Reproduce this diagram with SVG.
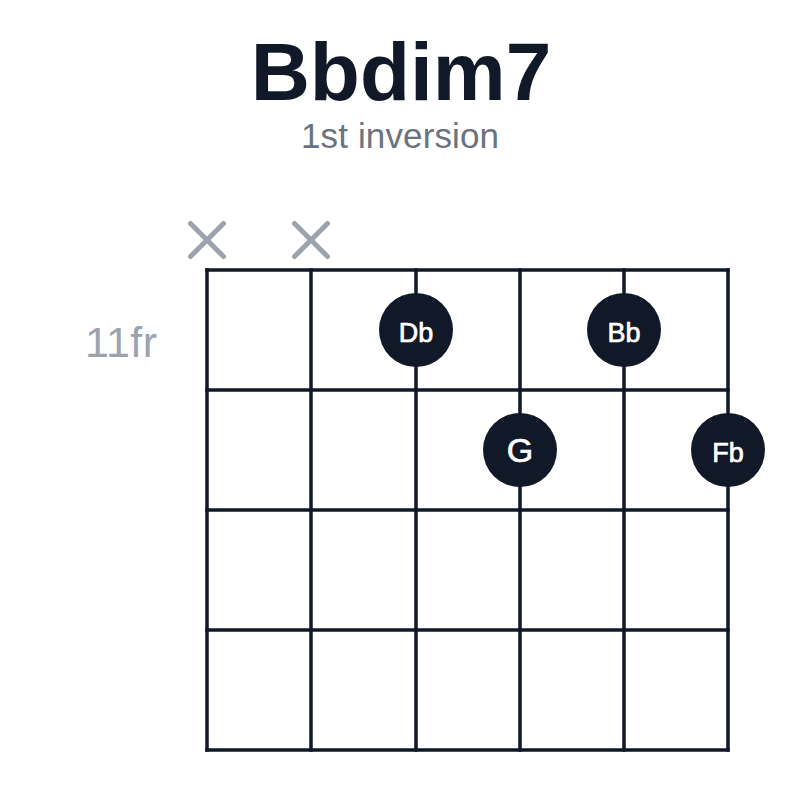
<svg xmlns="http://www.w3.org/2000/svg" width="800" height="800" viewBox="0 0 800 800">
  <style>
    .title { font-family: "Liberation Sans", Arial, sans-serif; font-weight: bold; font-size: 82px; fill: #111827; }
    .sub { font-family: "Liberation Sans", Arial, sans-serif; font-size: 35px; fill: #6b7280; }
    .fret-label { font-family: "Liberation Sans", Arial, sans-serif; font-size: 43px; fill: #9ca3af; }
    .grid line { stroke: #111827; stroke-width: 3.5; stroke-linecap: square; }
    .mute line { stroke: #9ca3af; stroke-width: 5; stroke-linecap: round; }
    .dot circle { fill: #111827; }
    .dot text { font-family: "Liberation Sans", Arial, sans-serif; fill: #ffffff; text-anchor: middle; stroke: #ffffff; stroke-width: 0.7; }
    .small { font-size: 27px; }
    .big { font-size: 34px; }
  </style>
  <rect width="800" height="800" fill="#ffffff"/>
  <g id="title">
    <text class="title" x="401" y="100" text-anchor="middle">Bbdim7</text>
    <text class="sub" x="400" y="148" text-anchor="middle" textLength="198">1st inversion</text>
  </g>
  <g id="fret-number">
    <text class="fret-label" x="85" y="357" textLength="72">11fr</text>
  </g>
  <g id="connectors" class="grid">
    <line x1="207" y1="270" x2="207" y2="750"/>
    <line x1="311" y1="270" x2="311" y2="750"/>
    <line x1="416" y1="270" x2="416" y2="750"/>
    <line x1="520" y1="270" x2="520" y2="750"/>
    <line x1="624" y1="270" x2="624" y2="750"/>
    <line x1="728" y1="270" x2="728" y2="750"/>
    <line x1="207" y1="270" x2="728" y2="270"/>
    <line x1="207" y1="390" x2="728" y2="390"/>
    <line x1="207" y1="510" x2="728" y2="510"/>
    <line x1="207" y1="630" x2="728" y2="630"/>
    <line x1="207" y1="750" x2="728" y2="750"/>
  </g>
  <g id="mute-1" class="mute">
    <line x1="190.5" y1="223.5" x2="223.5" y2="256.5"/>
    <line x1="223.5" y1="223.5" x2="190.5" y2="256.5"/>
  </g>
  <g id="mute-2" class="mute">
    <line x1="294.5" y1="223.5" x2="327.5" y2="256.5"/>
    <line x1="327.5" y1="223.5" x2="294.5" y2="256.5"/>
  </g>
  <g id="note-Db" class="dot">
    <circle cx="416" cy="330" r="37"/>
    <text class="small" x="416" y="341.5">Db</text>
  </g>
  <g id="note-Bb" class="dot">
    <circle cx="624" cy="330" r="37"/>
    <text class="small" x="624" y="341.5">Bb</text>
  </g>
  <g id="note-G" class="dot">
    <circle cx="520" cy="450" r="37"/>
    <text class="big" x="520" y="462">G</text>
  </g>
  <g id="note-Fb" class="dot">
    <circle cx="728" cy="450" r="37"/>
    <text class="small" x="728" y="461.5">Fb</text>
  </g>
</svg>
